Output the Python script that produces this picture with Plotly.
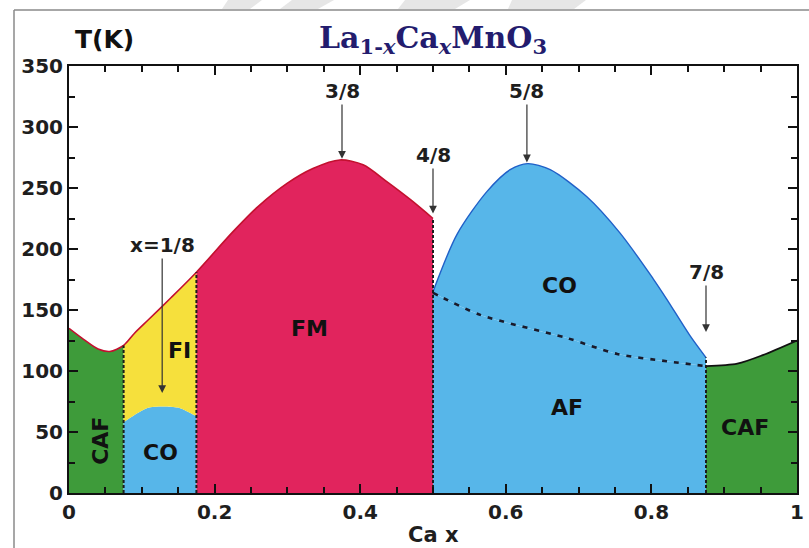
import plotly.graph_objects as go

# ---- phase-diagram data: Ca fraction x and temperature T (K) ----
# Upper (red) transition line from x = 0 to x = 0.5
fm_x = [0, 0.02, 0.04, 0.056, 0.075, 0.09, 0.109, 0.14, 0.175, 0.225, 0.26, 0.3,
        0.335, 0.372, 0.404, 0.437, 0.47, 0.5]
fm_t = [135, 126, 118, 116, 121, 131, 142, 160, 181, 214, 235, 254,
        266, 273, 269, 255, 240, 225]

# Charge-ordered dome at low doping
co_low_x = [0.075, 0.09, 0.11, 0.13, 0.15, 0.165, 0.175]
co_low_t = [58, 64, 70, 71, 70, 66, 63]

# Charge-ordering line for 0.5 <= x <= 0.875
co_high_x = [0.5, 0.533, 0.574, 0.606, 0.63, 0.661, 0.711, 0.757, 0.802, 0.821, 0.853, 0.875]
co_high_t = [165, 212, 247, 265, 270, 265, 243, 213, 176, 159, 129, 111]

# Antiferromagnetic (Neel) line, dashed
af_x = [0.5, 0.51, 0.565, 0.684, 0.753, 0.821, 0.875]
af_t = [164, 161, 146, 127, 114, 108, 104]

# Canted AF line at high doping
caf_r_x = [0.875, 0.918, 0.953, 1.0]
caf_r_t = [104, 106, 113, 125]

# Phase boundaries in composition (dotted verticals)
bound_x = [0.075, 0.175, 0.5, 0.875]

# Region labels
phase_names = ["CAF", "CO", "FI", "FM", "CO", "AF", "CAF"]
phase_x = [0.043, 0.125, 0.152, 0.331, 0.674, 0.684, 0.929]
phase_t = [43, 33, 117, 135, 170, 70, 54]
phase_angle = [-90, 0, 0, 0, 0, 0, 0]

# Special commensurate fillings marked with arrows
mark_text = ["x=1/8", "3/8", "4/8", "5/8", "7/8"]
mark_x = [0.128, 0.375, 0.5, 0.629, 0.875]
mark_t = [82, 274, 229, 271, 132]

x_ticks = [0, 0.2, 0.4, 0.6, 0.8, 1]
x_ticklabels = ["0", "0.2", "0.4", "0.6", "0.8", "1"]
y_ticks = [0, 50, 100, 150, 200, 250, 300, 350]

GREEN = "#3e9b3a"
YELLOW = "#f6e03c"
BLUE = "#57b6e9"
PINK = "#e1245d"
RED_LINE = "#c3102f"
BLUE_LINE = "#2060c8"
FONT = "DejaVu Sans"
INK = "#1e1e1e"

# figure geometry (pixels)
W, H = 809, 548
ML, MR, MT, MB = 69, 12, 66, 55
PW, PH = W - ML - MR, H - MT - MB


def px(xp):
    return (xp - ML) / PW


def py(yp):
    return (H - MB - yp) / PH


def sub(xs, ts, lo, hi):
    pts = [(a, b) for a, b in zip(xs, ts) if lo - 1e-9 <= a <= hi + 1e-9]
    return [p[0] for p in pts], [p[1] for p in pts]


fig = go.Figure()


def region(lower_x, lower_t, upper_x, upper_t, color):
    fig.add_trace(go.Scatter(x=lower_x, y=lower_t, mode="lines",
                             line=dict(width=0, shape="spline", smoothing=0.8),
                             hoverinfo="skip", showlegend=False))
    fig.add_trace(go.Scatter(x=upper_x, y=upper_t, mode="lines", fill="tonexty",
                             fillcolor=color,
                             line=dict(width=0, shape="spline", smoothing=0.8),
                             hoverinfo="skip", showlegend=False))


# CAF (low x)
ux, ut = sub(fm_x, fm_t, 0, bound_x[0])
region([0, bound_x[0]], [0, 0], ux, ut, GREEN)
# CO dome (low x)
region([bound_x[0], bound_x[1]], [0, 0], co_low_x, co_low_t, BLUE)
# FI
ux, ut = sub(fm_x, fm_t, bound_x[0], bound_x[1])
region(co_low_x, co_low_t, ux, ut, YELLOW)
# FM
ux, ut = sub(fm_x, fm_t, bound_x[1], bound_x[2])
region([bound_x[1], bound_x[2]], [0, 0], ux, ut, PINK)
# AF
region([bound_x[2], bound_x[3]], [0, 0], af_x, af_t, BLUE)
# CO (high x)
region(af_x, af_t, co_high_x, co_high_t, BLUE)
# CAF (high x)
region([bound_x[3], 1], [0, 0], caf_r_x, caf_r_t, GREEN)

# boundary lines
fig.add_trace(go.Scatter(x=fm_x, y=fm_t, mode="lines",
                         line=dict(color=RED_LINE, width=1.6, shape="spline", smoothing=0.8),
                         hoverinfo="skip", showlegend=False))
fig.add_trace(go.Scatter(x=co_high_x, y=co_high_t, mode="lines",
                         line=dict(color=BLUE_LINE, width=1.4, shape="spline", smoothing=0.8),
                         hoverinfo="skip", showlegend=False))
fig.add_trace(go.Scatter(x=af_x, y=af_t, mode="lines",
                         line=dict(color="#1a1a2a", width=2.6, dash="5px,7px",
                                   shape="spline", smoothing=0.8),
                         hoverinfo="skip", showlegend=False))
fig.add_trace(go.Scatter(x=caf_r_x, y=caf_r_t, mode="lines",
                         line=dict(color="#111111", width=1.8, shape="spline", smoothing=0.8),
                         hoverinfo="skip", showlegend=False))

# dotted vertical phase boundaries
bound_top = [fm_t[fm_x.index(bound_x[0])], fm_t[fm_x.index(bound_x[1])],
             fm_t[fm_x.index(bound_x[2])], co_high_t[-1]]
for bx, bt in zip(bound_x, bound_top):
    fig.add_trace(go.Scatter(x=[bx, bx], y=[0, bt], mode="lines",
                             line=dict(color="#1c1c1c", width=2, dash="3px,2px"),
                             hoverinfo="skip", showlegend=False))

annotations = []
for name, x, t, ang in zip(phase_names, phase_x, phase_t, phase_angle):
    annotations.append(dict(x=x, y=t, xref="x", yref="y", text=name, showarrow=False,
                            textangle=ang, xanchor="center", yanchor="middle",
                            font=dict(family=FONT, size=22, color="#111111", weight="bold")))

label_rows = {"x=1/8": 245, "3/8": 91, "4/8": 155, "5/8": 91, "7/8": 272}
for txt, x, t in zip(mark_text, mark_x, mark_t):
    tip_px = H - MB - t / 350 * PH
    annotations.append(dict(x=x, y=t, xref="x", yref="y", text=txt, showarrow=True,
                            ax=0, ay=label_rows[txt] - tip_px, arrowhead=2, arrowsize=1.3,
                            arrowwidth=1.2, arrowcolor="#333333", standoff=0,
                            font=dict(family=FONT, size=20, color=INK, weight="bold")))

# axis titles and chart title
annotations.append(dict(x=px(433), y=py(535), xref="paper", yref="paper", text="Ca x",
                        showarrow=False, xanchor="center", yanchor="middle",
                        font=dict(family=FONT, size=21, color=INK, weight="bold")))
annotations.append(dict(x=px(104), y=py(40), xref="paper", yref="paper", text="<b>T(K)</b>",
                        showarrow=False, xanchor="center", yanchor="middle",
                        font=dict(family=FONT, size=25, color="#111111")))
annotations.append(dict(x=px(433), y=py(40), xref="paper", yref="paper",
                        text="<b>La<sub>1-<i>x</i></sub>Ca<sub><i>x</i></sub>MnO<sub>3</sub></b>",
                        showarrow=False, xanchor="center", yanchor="middle",
                        font=dict(family="DejaVu Serif", size=30, color="#231c6e")))

shapes = [
    # outer frame (top and left edges)
    dict(type="line", xref="paper", yref="paper", x0=px(14), x1=px(W + 5),
         y0=py(10), y1=py(10), line=dict(color="#8a8a8a", width=1.5)),
    dict(type="line", xref="paper", yref="paper", x0=px(14), x1=px(14),
         y0=py(10), y1=py(H + 5), line=dict(color="#8a8a8a", width=1.5)),
]
# faint background mark in the top strip
for x0, x1, x2, x3 in [(228, 262, 250, 222), (292, 334, 318, 280),
                       (405, 470, 455, 398), (512, 586, 574, 508)]:
    shapes.append(dict(type="path", xref="paper", yref="paper", layer="below",
                       path=(f"M {px(x0)} {py(0)} L {px(x1)} {py(0)} "
                             f"L {px(x2)} {py(9)} L {px(x3)} {py(9)} Z"),
                       fillcolor="#e6e6e6", line=dict(width=0)))

axis_common = dict(showline=True, linecolor="#111111", linewidth=2, mirror="ticks",
                   ticks="inside", tickcolor="#111111", tickwidth=1.5, ticklen=9,
                   showgrid=False, zeroline=False, automargin=False,
                   tickfont=dict(family=FONT, size=20, color=INK, weight="bold"))

fig.update_layout(
    width=W, height=H,
    margin=dict(l=ML, r=MR, t=MT, b=MB),
    paper_bgcolor="white", plot_bgcolor="white",
    xaxis=dict(range=[0, 1], tickvals=x_ticks, ticktext=x_ticklabels,
               minor=dict(ticks="inside", dtick=0.05, ticklen=6, tickcolor="#111111"),
               **axis_common),
    yaxis=dict(range=[0, 350], tickvals=y_ticks,
               minor=dict(ticks="inside", dtick=25, ticklen=6, tickcolor="#111111"),
               **axis_common),
    annotations=annotations,
    shapes=shapes,
    showlegend=False,
)

fig.write_html("out.html")
